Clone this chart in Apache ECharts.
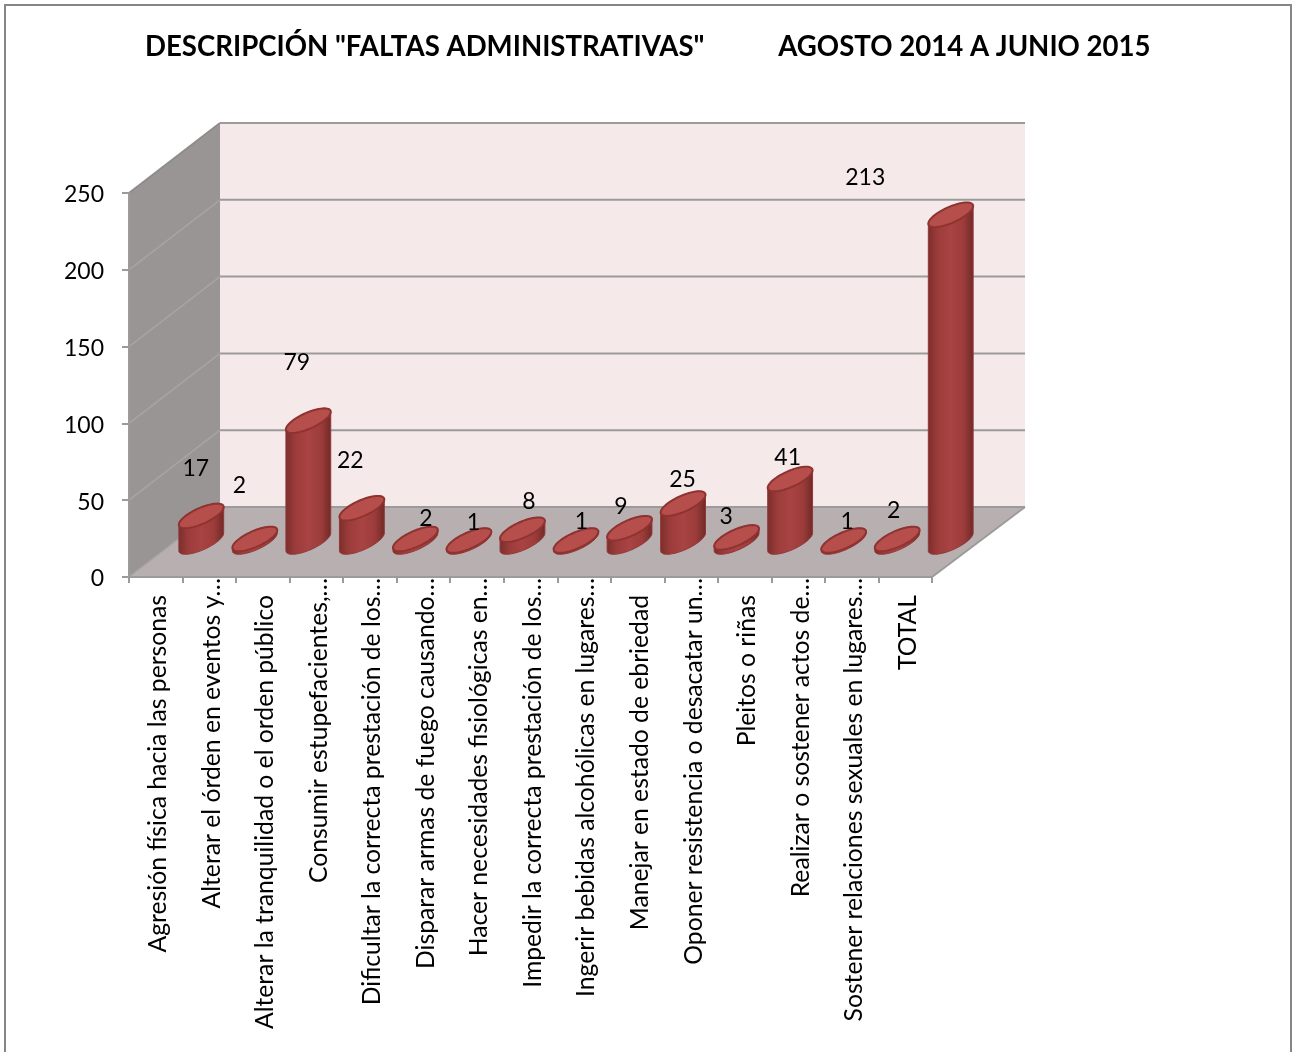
<!DOCTYPE html>
<html><head><meta charset="utf-8">
<style>html,body{margin:0;padding:0;background:#fff}#c{width:1296px;height:1052px}</style>
<script src="https://cdn.jsdelivr.net/npm/echarts@6/dist/echarts.min.js"></script>
</head><body><div id="c"></div>
<script>
const titleText = 'DESCRIPCIÓN "FALTAS ADMINISTRATIVAS"           AGOSTO 2014 A JUNIO 2015';
const categories = [
  'Agresión física hacia las personas',
  'Alterar el órden en eventos y…',
  'Alterar la tranquilidad o el orden público',
  'Consumir estupefacientes,…',
  'Dificultar la correcta prestación de los…',
  'Disparar armas de fuego causando…',
  'Hacer necesidades fisiológicas en…',
  'Impedir la correcta prestación de los…',
  'Ingerir bebidas alcohólicas en lugares…',
  'Manejar en estado de ebriedad',
  'Oponer resistencia o desacatar un…',
  'Pleitos o riñas',
  'Realizar o sostener actos de…',
  'Sostener relaciones sexuales en lugares…',
  'TOTAL'
];
const values = [17, 2, 79, 22, 2, 1, 8, 1, 9, 25, 3, 41, 1, 2, 213];
const yTicks = [0, 50, 100, 150, 200, 250];
// Excel's odd data-label placement, relative to the value's point on the front plane
const labelNudge = [[40,-82],[30,-88],[34,-93],[34,-83],[56,-55],[50,-53],[52,-63],[51,-54],[37,-57],[45,-59],[35,-56],[43,-56],[49,-54],[42,-63],[-40,-72]];

const FONT = 'Lato';
const DEPTH = [91, -70];
const GRAY = '#9b9b9b';

function room(params, api) {
  const cs = params.coordSys;
  const x0 = cs.x, x1 = cs.x + cs.width;
  const yOf = v => api.coord([0, v])[1];
  const dx = DEPTH[0], dy = DEPTH[1], dxR = DEPTH[0] + 2;
  const yB = yOf(yTicks[0]), yT = yOf(yTicks[yTicks.length - 1]);
  const kids = [
    {type:'polygon', shape:{points:[[x0+dx,yT+dy],[x1+dxR,yT+dy],[x1+dxR,yB+dy],[x0+dx,yB+dy]]}, style:{fill:'#f5e9e9'}},
    {type:'polygon', shape:{points:[[x0,yB],[x0,yT],[x0+dx,yT+dy],[x0+dx,yB+dy]]}, style:{fill:'#9a9595'}},
    {type:'polygon', shape:{points:[[x0,yB],[x1,yB],[x1+dxR,yB+dy],[x0+dx,yB+dy]]}, style:{fill:'#b8b0b0'}},
    {type:'line', shape:{x1:x1,y1:yB,x2:x1+dxR,y2:yB+dy}, style:{stroke:GRAY,lineWidth:2}}
  ];
  yTicks.forEach(v => {
    const y = yOf(v);
    kids.push({type:'line', shape:{x1:x0+dx,y1:y+dy,x2:x1+dxR,y2:y+dy}, style:{stroke:GRAY,lineWidth:2}});
    kids.push({type:'line', shape:{x1:x0,y1:y,x2:x0+dx,y2:y+dy}, style:{stroke:v===250?'#8f8c8c':'#a6a5a2',lineWidth:v===250?2:1.5}});
  });
  return {type:'group', children:kids};
}

function ellipsePts(c, from, to, n) {
  const a = 15.7, b = 16, e = 12.3, pts = [];
  for (let k = 0; k <= n; k++) {
    const t = from + (to - from) * k / n;
    pts.push([c[0] + a*Math.cos(t) + b*Math.sin(t), c[1] - e*Math.sin(t)]);
  }
  return pts;
}

function bar(params, api) {
  const i = api.value(0), v = api.value(1);
  const base = api.coord([i, 0]), top = api.coord([i, v]);
  const mx = DEPTH[0]/2, my = DEPTH[1]/2;
  const cb = [base[0]+mx, base[1]+my], ct = [top[0]+mx, top[1]+my];
  const tR = Math.atan2(16, 15.7);      // rightmost point parameter
  const tL = tR + Math.PI;              // leftmost point parameter
  const body = ellipsePts(ct, tR, tL, 30).concat(ellipsePts(cb, tL, tR + 2*Math.PI, 30));
  return {type:'group', children:[
    {type:'polygon', shape:{points:body}, style:{
      fill:{type:'linear',x:0,y:0,x2:1,y2:0,colorStops:[
        {offset:0,color:'#7a2e2c'},{offset:0.22,color:'#9c3c3a'},{offset:0.5,color:'#a84443'},
        {offset:0.78,color:'#9c3c3a'},{offset:1,color:'#6f2927'}]},
      stroke:'#93373a',lineWidth:1}},
    {type:'polygon', shape:{points:ellipsePts(ct,0,2*Math.PI,60)}, style:{fill:'#b64e4c',stroke:'#8f3331',lineWidth:2}}
  ]};
}

function dataLabel(params, api) {
  const i = api.value(0), v = api.value(1);
  const p = api.coord([i, v]), n = labelNudge[i];
  return {type:'text', x:p[0]+n[0], y:p[1]+n[1], style:{text:String(v),font:'23px '+FONT,fill:'#000',align:'center',verticalAlign:'middle'}};
}

const chart = echarts.init(document.getElementById('c'), null, {renderer:'canvas'});
const pairs = values.map((v,i)=>[i,v]);
chart.setOption({
  animation:false,
  backgroundColor:'#fff',
  title:{text:titleText,left:145,top:33,padding:0,textStyle:{fontFamily:FONT,fontWeight:'bold',fontSize:27.6,color:'#000'}},
  graphic:[{type:'rect',z:-10,shape:{x:5,y:5,width:1286,height:1100},style:{fill:'none',stroke:'#868686',lineWidth:2}}],
  grid:{left:129,top:193,width:803,height:384},
  xAxis:{type:'category',data:categories,z:5,
    axisLine:{lineStyle:{color:GRAY,width:2}},
    axisTick:{show:true,alignWithLabel:false,length:6,interval:0,lineStyle:{color:GRAY,width:2}},
    axisLabel:{interval:0,rotate:90,margin:1,color:'#000',fontFamily:FONT,fontSize:24.7,hideOverlap:false,
      formatter:s=>s.endsWith('…')?'{e|'+s+'}':'{p|'+s+'}',
      rich:{e:{fontFamily:FONT,fontSize:24.7,color:'#000',padding:[5,0,0,0]},p:{fontFamily:FONT,fontSize:24.7,color:'#000',padding:[5,17,0,0]}}},
    splitLine:{show:false}},
  yAxis:{type:'value',min:0,max:250,interval:50,z:5,
    axisLine:{show:true,lineStyle:{color:GRAY,width:2}},
    axisTick:{show:true,length:7,lineStyle:{color:GRAY,width:2}},
    axisLabel:{margin:25,color:'#000',fontFamily:FONT,fontSize:23,formatter:v=>'{n|'+v+'}',
      rich:{n:{fontFamily:FONT,fontSize:23,color:'#000',padding:[4,0,0,0]}}},
    splitLine:{show:false}},
  series:[
    {type:'custom',name:'room',coordinateSystem:'cartesian2d',z:1,clip:false,silent:true,data:[[0,0]],renderItem:room},
    {type:'custom',name:'Faltas',coordinateSystem:'cartesian2d',z:2,clip:false,data:pairs,encode:{x:0,y:1},renderItem:bar},
    {type:'custom',name:'labels',coordinateSystem:'cartesian2d',z:8,clip:false,data:pairs,encode:{x:0,y:1},renderItem:dataLabel}
  ]
});
</script></body></html>
